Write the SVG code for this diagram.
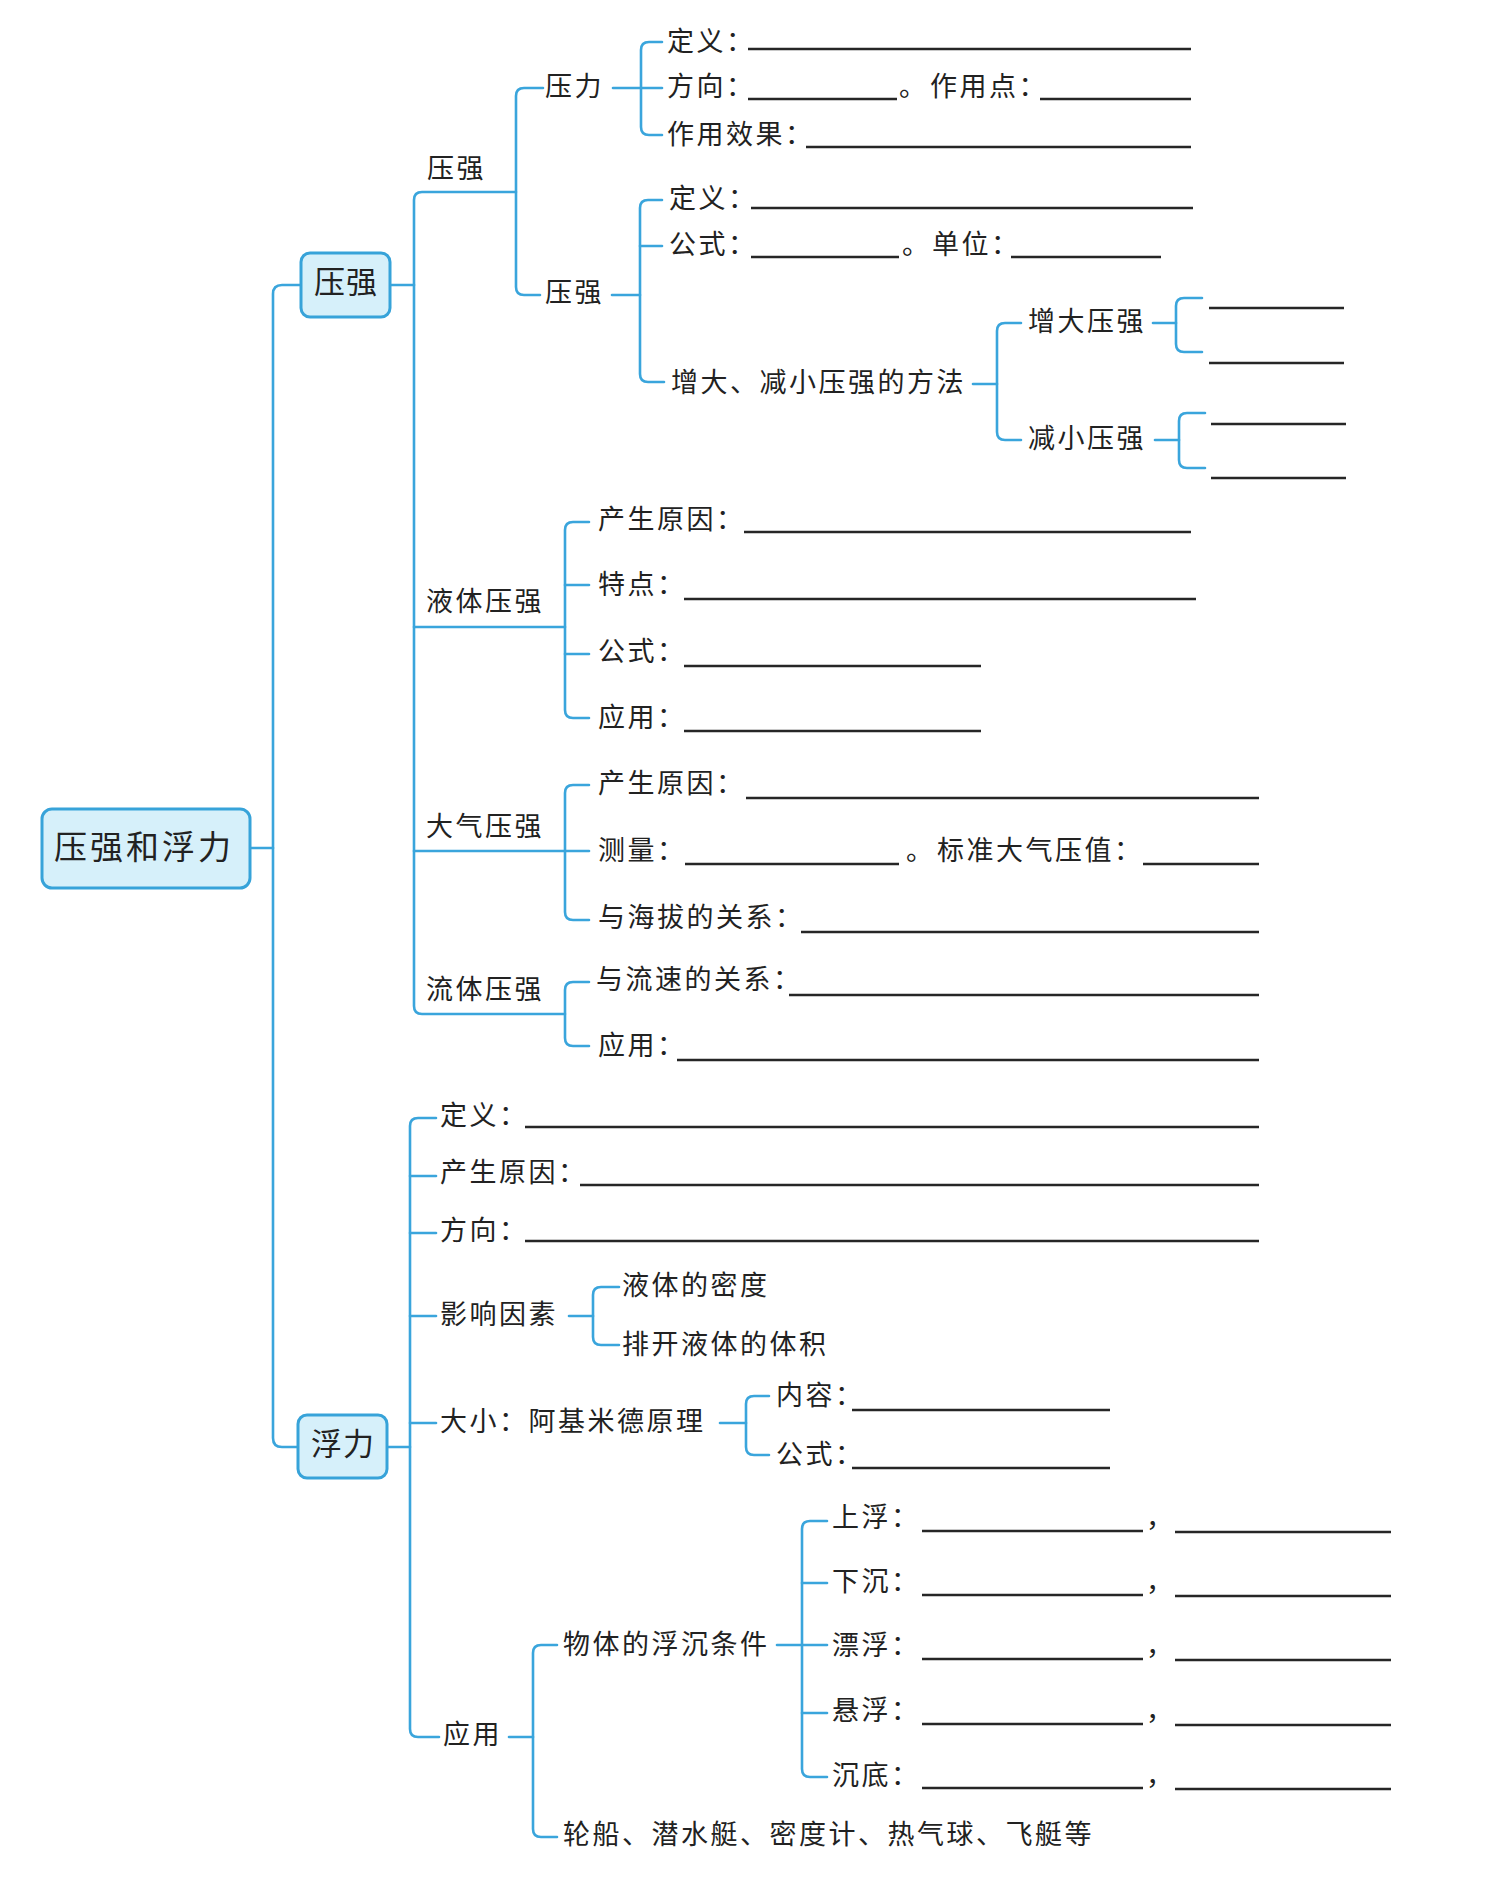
<svg xmlns="http://www.w3.org/2000/svg" width="1490" height="1881" viewBox="0 0 1490 1881">
<style>
.bg{fill:#ffffff}
.box{fill:#d6f0fa;stroke:#37a3d9;stroke-width:3}
.c{fill:none;stroke:#3aa5dc;stroke-width:2.6;stroke-linecap:round;stroke-linejoin:round}
.u{stroke:#262626;stroke-width:2.4}
text{font-family:"Noto Sans CJK SC","Noto Sans CJK TC",sans-serif;fill:#222;dominant-baseline:central}
.t{font-size:27px;letter-spacing:2.5px}
.b{font-size:31px;letter-spacing:1px;text-anchor:middle}
.m{font-size:33px;letter-spacing:3px}
</style>
<rect class="bg" x="0" y="0" width="1490" height="1881"/>

<g id="connectors">
<path class="c" d="M301,285 H282 Q273,285 273,294 V1438 Q273,1447 282,1447 H298"/>
<path class="c" d="M250,848 H273"/>
<path class="c" d="M390,285 H414"/>
<path class="c" d="M516,192 H422 Q414,192 414,200 V1006 Q414,1014 422,1014 H565"/>
<path class="c" d="M414,627 H565"/>
<path class="c" d="M414,851 H589"/>
<path class="c" d="M543,88 H524 Q516,88 516,96 V287 Q516,295 524,295 H540"/>
<path class="c" d="M613,88 H662"/>
<path class="c" d="M662,42 H649 Q641,42 641,50 V127 Q641,135 649,135 H662"/>
<path class="c" d="M612,295 H640"/>
<path class="c" d="M662,200 H648 Q640,200 640,208 V374 Q640,382 648,382 H664"/>
<path class="c" d="M640,246 H662"/>
<path class="c" d="M973,384 H997"/>
<path class="c" d="M1021,323 H1005 Q997,323 997,331 V432 Q997,440 1005,440 H1021"/>
<path class="c" d="M1153,323 H1176"/>
<path class="c" d="M1202,298 H1184 Q1176,298 1176,306 V344 Q1176,352 1184,352 H1202"/>
<path class="c" d="M1155,440 H1179"/>
<path class="c" d="M1205,413 H1187 Q1179,413 1179,421 V460 Q1179,468 1187,468 H1205"/>
<path class="c" d="M589,522 H573 Q565,522 565,530 V710 Q565,718 573,718 H589"/>
<path class="c" d="M565,585 H589"/>
<path class="c" d="M565,654 H589"/>
<path class="c" d="M589,785 H573 Q565,785 565,793 V912 Q565,920 573,920 H589"/>
<path class="c" d="M589,982 H573 Q565,982 565,990 V1038 Q565,1046 573,1046 H589"/>
<path class="c" d="M387,1447 H410"/>
<path class="c" d="M436,1118 H418 Q410,1118 410,1126 V1729 Q410,1737 418,1737 H439"/>
<path class="c" d="M410,1176 H436"/>
<path class="c" d="M410,1233 H436"/>
<path class="c" d="M410,1316 H436"/>
<path class="c" d="M410,1423 H436"/>
<path class="c" d="M569,1316 H593"/>
<path class="c" d="M619,1287 H601 Q593,1287 593,1295 V1337 Q593,1345 601,1345 H619"/>
<path class="c" d="M720,1423 H746"/>
<path class="c" d="M769,1396 H754 Q746,1396 746,1404 V1447 Q746,1455 754,1455 H769"/>
<path class="c" d="M509,1737 H533"/>
<path class="c" d="M557,1645 H541 Q533,1645 533,1653 V1829 Q533,1837 541,1837 H557"/>
<path class="c" d="M777,1645 H827"/>
<path class="c" d="M827,1521 H810 Q802,1521 802,1529 V1769 Q802,1777 810,1777 H827"/>
<path class="c" d="M802,1583 H827"/>
<path class="c" d="M802,1713 H827"/>
</g>

<g id="n-root"><rect class="box" x="42" y="809" width="208" height="79" rx="10"/><text class="m" x="54" y="845">压强和浮力</text></g>
<g id="n-yaqiang"><rect class="box" x="301" y="253" width="89" height="64" rx="9"/><text class="b" x="346" y="279">压强</text></g>
<g id="n-fuli"><rect class="box" x="298" y="1415" width="89" height="63" rx="9"/><text class="b" x="343" y="1441">浮力</text></g>

<g id="n-yq-sub"><text class="t" x="427" y="166">压强</text></g>
<g id="n-yali"><text class="t" x="545" y="84">压力</text></g>
<g id="n-yali-def"><text class="t" x="667" y="39">定义：</text><line class="u" x1="748" y1="49" x2="1191" y2="49"/></g>
<g id="n-yali-dir"><text class="t" x="667" y="84">方向：</text><line class="u" x1="748" y1="99" x2="897" y2="99"/><text class="t" x="899" y="84">。</text><text class="t" x="930" y="84">作用点：</text><line class="u" x1="1040" y1="99" x2="1191" y2="99"/></g>
<g id="n-yali-eff"><text class="t" x="667" y="132">作用效果：</text><line class="u" x1="806" y1="147" x2="1191" y2="147"/></g>
<g id="n-yq2"><text class="t" x="545" y="290">压强</text></g>
<g id="n-yq2-def"><text class="t" x="669" y="196">定义：</text><line class="u" x1="751" y1="208" x2="1193" y2="208"/></g>
<g id="n-yq2-formula"><text class="t" x="669" y="242">公式：</text><line class="u" x1="751" y1="257" x2="899" y2="257"/><text class="t" x="902" y="242">。</text><text class="t" x="932" y="242">单位：</text><line class="u" x1="1011" y1="257" x2="1161" y2="257"/></g>
<g id="n-method"><text class="t" x="671" y="380">增大、减小压强的方法</text></g>
<g id="n-inc"><text class="t" x="1028" y="319">增大压强</text><line class="u" x1="1209" y1="308" x2="1344" y2="308"/><line class="u" x1="1209" y1="363" x2="1344" y2="363"/></g>
<g id="n-dec"><text class="t" x="1028" y="436">减小压强</text><line class="u" x1="1211" y1="424" x2="1346" y2="424"/><line class="u" x1="1211" y1="478" x2="1346" y2="478"/></g>

<g id="n-liquid"><text class="t" x="426" y="599">液体压强</text></g>
<g id="n-liq-cause"><text class="t" x="598" y="517">产生原因：</text><line class="u" x1="744" y1="532" x2="1191" y2="532"/></g>
<g id="n-liq-feat"><text class="t" x="598" y="582">特点：</text><line class="u" x1="684" y1="599" x2="1196" y2="599"/></g>
<g id="n-liq-formula"><text class="t" x="598" y="649">公式：</text><line class="u" x1="684" y1="666" x2="981" y2="666"/></g>
<g id="n-liq-app"><text class="t" x="598" y="715">应用：</text><line class="u" x1="684" y1="731" x2="981" y2="731"/></g>

<g id="n-atm"><text class="t" x="426" y="824">大气压强</text></g>
<g id="n-atm-cause"><text class="t" x="598" y="781">产生原因：</text><line class="u" x1="746" y1="798" x2="1259" y2="798"/></g>
<g id="n-atm-measure"><text class="t" x="598" y="848">测量：</text><line class="u" x1="685" y1="864" x2="899" y2="864"/><text class="t" x="906" y="848">。</text><text class="t" x="937" y="848">标准大气压值：</text><line class="u" x1="1143" y1="864" x2="1259" y2="864"/></g>
<g id="n-atm-alt"><text class="t" x="598" y="915">与海拔的关系：</text><line class="u" x1="801" y1="932" x2="1259" y2="932"/></g>

<g id="n-fluid"><text class="t" x="426" y="987">流体压强</text></g>
<g id="n-fluid-speed"><text class="t" x="596" y="977">与流速的关系：</text><line class="u" x1="789" y1="995" x2="1259" y2="995"/></g>
<g id="n-fluid-app"><text class="t" x="598" y="1043">应用：</text><line class="u" x1="677" y1="1060" x2="1259" y2="1060"/></g>

<g id="n-fl-def"><text class="t" x="440" y="1113">定义：</text><line class="u" x1="525" y1="1127" x2="1259" y2="1127"/></g>
<g id="n-fl-cause"><text class="t" x="440" y="1170">产生原因：</text><line class="u" x1="580" y1="1185" x2="1259" y2="1185"/></g>
<g id="n-fl-dir"><text class="t" x="440" y="1228">方向：</text><line class="u" x1="525" y1="1241" x2="1259" y2="1241"/></g>
<g id="n-fl-factor"><text class="t" x="440" y="1312">影响因素</text></g>
<g id="n-fl-density"><text class="t" x="622" y="1283">液体的密度</text></g>
<g id="n-fl-volume"><text class="t" x="622" y="1342">排开液体的体积</text></g>
<g id="n-fl-size"><text class="t" x="440" y="1419">大小：阿基米德原理</text></g>
<g id="n-fl-content"><text class="t" x="776" y="1393">内容：</text><line class="u" x1="852" y1="1410" x2="1110" y2="1410"/></g>
<g id="n-fl-formula"><text class="t" x="776" y="1452">公式：</text><line class="u" x1="852" y1="1468" x2="1110" y2="1468"/></g>
<g id="n-fl-app"><text class="t" x="443" y="1732">应用</text></g>
<g id="n-cond"><text class="t" x="563" y="1642">物体的浮沉条件</text></g>
<g id="n-up"><text class="t" x="832" y="1515">上浮：</text><line class="u" x1="922" y1="1531" x2="1143" y2="1531"/><text class="t" x="1146" y="1515">，</text><line class="u" x1="1175" y1="1532" x2="1391" y2="1532"/></g>
<g id="n-down"><text class="t" x="832" y="1579">下沉：</text><line class="u" x1="922" y1="1595" x2="1143" y2="1595"/><text class="t" x="1146" y="1579">，</text><line class="u" x1="1175" y1="1596" x2="1391" y2="1596"/></g>
<g id="n-float"><text class="t" x="832" y="1643">漂浮：</text><line class="u" x1="922" y1="1659" x2="1143" y2="1659"/><text class="t" x="1146" y="1643">，</text><line class="u" x1="1175" y1="1660" x2="1391" y2="1660"/></g>
<g id="n-susp"><text class="t" x="832" y="1708">悬浮：</text><line class="u" x1="922" y1="1724" x2="1143" y2="1724"/><text class="t" x="1146" y="1708">，</text><line class="u" x1="1175" y1="1725" x2="1391" y2="1725"/></g>
<g id="n-sink"><text class="t" x="832" y="1773">沉底：</text><line class="u" x1="922" y1="1788" x2="1143" y2="1788"/><text class="t" x="1146" y="1773">，</text><line class="u" x1="1175" y1="1789" x2="1391" y2="1789"/></g>
<g id="n-examples"><text class="t" x="563" y="1832">轮船、潜水艇、密度计、热气球、飞艇等</text></g>
</svg>
